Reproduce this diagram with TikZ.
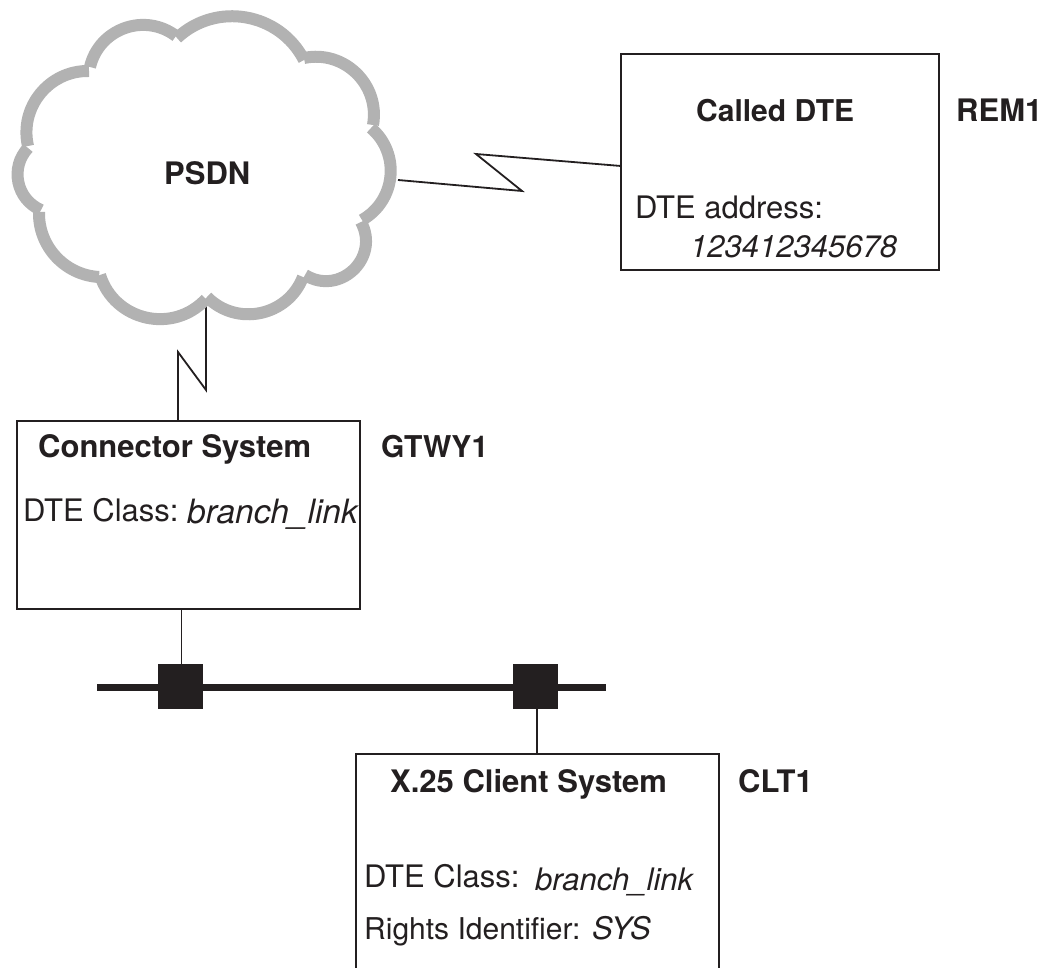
\documentclass[tikz,border=0pt]{standalone}
\usepackage{fontspec}
\setmainfont{TeX Gyre Heros}
\definecolor{ink}{HTML}{231F20}
\definecolor{cloudgrey}{HTML}{B2B2B2}
\tikzset{
  boxnode/.style={draw=ink,line width=1.7pt,fill=white,inner sep=0pt,outer sep=0pt,anchor=north west},
  wire/.style={draw=ink,line width=1.8pt,line join=miter},
  bus/.style={draw=ink,line width=7pt},
  tap/.style={fill=ink,inner sep=0pt,outer sep=0pt,minimum size=45pt,anchor=north west},
  head/.style={font=\fontsize{31}{31}\selectfont\bfseries,text=ink,inner sep=0pt,anchor=base west},
  headsmall/.style={head,font=\fontsize{30}{30}\selectfont\bfseries},
  body/.style={font=\fontsize{31}{31}\selectfont,text=ink,inner sep=0pt,anchor=base west},
  val/.style={font=\fontsize{31}{31}\selectfont\itshape,text=ink,inner sep=0pt,anchor=base west},
  lobe/.style={draw=cloudgrey,line width=12pt,line cap=butt}
}
\newcommand{\lobearc}[3]{%
  \pgfmathsetmacro{\lobeloose}{0.8514/(cos(#2/2)^2)}%
  \draw[lobe] (#1) to[bend left=#2,looseness=\lobeloose] (#3);}
\begin{document}
\begin{tikzpicture}[x=1pt,y=-1pt]
\useasboundingbox (0,0) rectangle (1044,968);
\clip (0,0) rectangle (1044,968);
\node[boxnode,minimum width=318pt,minimum height=216pt] (rem) at (621,54) {};
\node[boxnode,minimum width=343pt,minimum height=188pt] (gtwy) at (17,421) {};
\node[boxnode,minimum width=363pt,minimum height=260pt] (clt) at (356,754) {};
\coordinate (c0) at (177,38);
\coordinate (c0b) at (176,36);
\coordinate (c1) at (304,60);
\coordinate (c1b) at (304,58);
\coordinate (c2) at (373,125);
\coordinate (c2b) at (371,128);
\coordinate (c3) at (362,220);
\coordinate (c3b) at (361,222);
\coordinate (c4) at (305,275);
\coordinate (c4b) at (303,277);
\coordinate (c5) at (207,297);
\coordinate (c5b) at (206,299);
\coordinate (c6) at (100,275);
\coordinate (c6b) at (99,277);
\coordinate (c7) at (39,212);
\coordinate (c7b) at (41,210);
\coordinate (c8) at (28,148);
\coordinate (c8b) at (28,146);
\coordinate (c9) at (89,71);
\coordinate (c9b) at (90,67);
\coordinate (cloudE) at (398,180);
\coordinate (cloudS) at (206,306);
\draw[wire] (cloudE) -- (522,191) -- (476,154) -- (rem.west |- 0,166);
\draw[wire] (cloudS) -- (206,390) -- (178,352) -- (178,421);
\lobearc{c0}{53}{c1}
\lobearc{c1b}{56}{c2}
\lobearc{c2b}{55}{c3}
\lobearc{c3b}{75}{c4}
\lobearc{c4b}{57}{c5}
\lobearc{c5b}{60}{c6}
\lobearc{c6b}{44}{c7}
\lobearc{c7b}{55}{c8}
\lobearc{c8b}{52}{c9}
\lobearc{c9b}{57}{c0b}
\node[head] (psdn) at (164,185) {PSDN};
\coordinate (busW) at (97,687);
\coordinate (busE) at (606,687);
\draw[bus] (busW) -- (busE);
\node[tap] (t1) at (158,664) {};
\node[tap] (t2) at (513,664) {};
\coordinate (t1top) at ([xshift=1pt]t1.north);
\coordinate (t2bot) at ([xshift=1.5pt]t2.south);
\draw[wire] (gtwy.south -| t1top) -- (t1top);
\draw[wire] (t2bot) -- (t2bot |- clt.north);
\node[headsmall] (h1) at (696,122) {Called DTE};
\node[head] (l1) at (956,122) {REM1};
\node[body] (a1) at (635,219) {DTE address:};
\node[val] (v1) at (690,258) {123412345678};
\node[head] (h2) at (38,457) {Connector System};
\node[headsmall] (l2) at (381,457) {GTWY1};
\node[body] (a2) at (23,521) {DTE Class:};
\node[val,font=\fontsize{33.5}{33.5}\selectfont\itshape] (v2) at (187,523) {branch\_link};
\node[head] (h3) at (390,792) {X.25 Client System};
\node[head] (l3) at (738,792) {CLT1};
\node[body] (a3) at (364,887) {DTE Class:};
\node[val] (v3) at (535,890) {branch\_link};
\node[body,font=\fontsize{30}{30}\selectfont] (a4) at (364,939) {Rights Identifier:};
\node[val] (v4) at (592,939) {SYS};
\end{tikzpicture}
\end{document}
